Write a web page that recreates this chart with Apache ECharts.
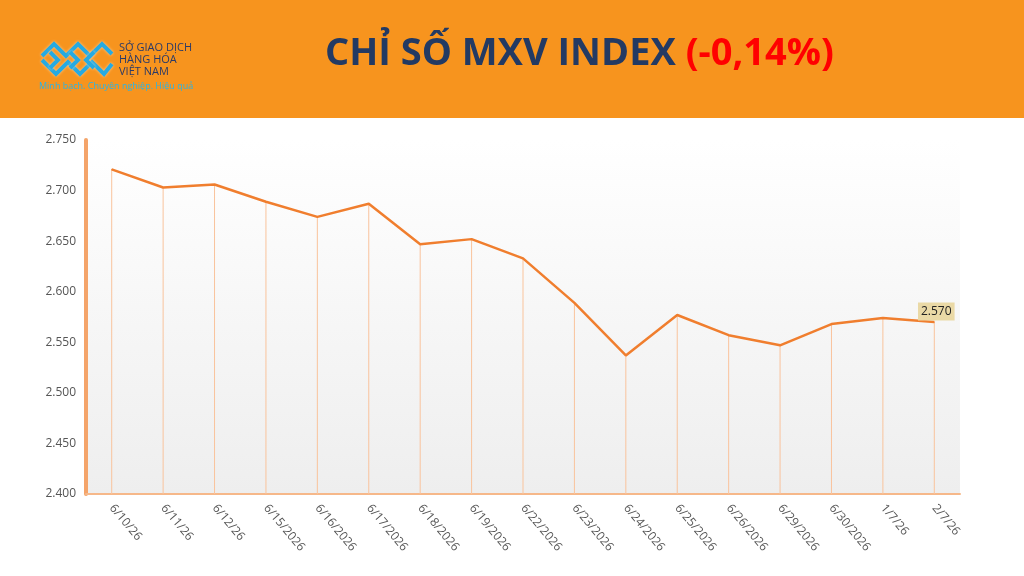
<!DOCTYPE html>
<html>
<head>
<meta charset="utf-8">
<script src="https://cdn.jsdelivr.net/npm/echarts@6/dist/echarts.min.js"></script>
<style>
  html, body { margin: 0; padding: 0; background: #fff; }
  #chart { width: 1024px; height: 576px; }
</style>
</head>
<body>
<div id="chart"></div>
<script>
// ngày giao dịch
const dates = ["6/10/26", "6/11/26", "6/12/26", "6/15/2026", "6/16/2026", "6/17/2026", "6/18/2026",
  "6/19/2026", "6/22/2026", "6/23/2026", "6/24/2026", "6/25/2026", "6/26/2026", "6/29/2026",
  "6/30/2026", "1/7/26", "2/7/26"]
// chỉ số MXV
const mxvIndex = [2721, 2703, 2706, 2689, 2674, 2687, 2647, 2652, 2633, 2589, 2537, 2577, 2557, 2547, 2568, 2574, 2570]
const yMin = 2400
const yMax = 2750
const yStep = 50

const fmt = v => (v / 1000).toFixed(3)
const last = mxvIndex.length - 1

const chart = echarts.init(document.getElementById("chart"))

// logo: zigzag icon
const logoLines = [
  [[42, 56], [54, 44], [66, 56], [78, 44], [90, 56], [102, 44], [112, 54]],
  [[42, 60], [56, 74], [68, 62], [80, 74], [92, 62], [104, 74], [112, 64]],
  [[50, 52], [58, 60], [50, 68]],
  [[70, 52], [78, 60], [70, 68]],
  [[94, 52], [86, 60], [94, 68]]
]

chart.setOption({
  animation: false,
  graphic: [
    { type: "rect", shape: { x: 0, y: 0, width: 1024, height: 118 }, style: { fill: "#F7941E" }, z: -10 },
    ...logoLines.map(pts => ({
      type: "polyline", shape: { points: pts },
      style: { stroke: "#27AAE1", lineWidth: 4, fill: null, shadowBlur: 3, shadowColor: "rgba(255,230,200,0.7)" }
    })),
    { type: "text", left: 119, top: 42, style: { text: "SỞ GIAO DỊCH", fill: "#2B3A67", font: "11px 'Open Sans'" } },
    { type: "text", left: 119, top: 54, style: { text: "HÀNG HÓA", fill: "#2B3A67", font: "11px 'Open Sans'" } },
    { type: "text", left: 119, top: 66, style: { text: "VIỆT NAM", fill: "#2B3A67", font: "11px 'Open Sans'" } },
    { type: "text", left: 39, top: 82, style: { text: "Minh bạch. Chuyên nghiệp. Hiệu quả", fill: "#2AB4E6", font: "9px 'Open Sans'" } },
    {
      type: "text", left: 325, top: 35,
      style: {
        text: "{a|CHỈ SỐ MXV INDEX }{b|(-0,14%)}",
        rich: {
          a: { fill: "#233A63", font: "bold 38px 'Open Sans'" },
          b: { fill: "#FF0000", font: "bold 38px 'Open Sans'" }
        }
      }
    }
  ],
  grid: {
    left: 86, right: 64, top: 140, bottom: 82,
    show: true, borderWidth: 0,
    backgroundColor: new echarts.graphic.LinearGradient(0, 0, 0, 1, [
      { offset: 0, color: "#ffffff" },
      { offset: 1, color: "#eeeeee" }
    ])
  },
  xAxis: {
    type: "category",
    data: dates,
    boundaryGap: true,
    axisLine: { lineStyle: { color: "#F6B88A", width: 2 } },
    axisTick: { show: false },
    axisLabel: { rotate: -50, color: "#555", fontSize: 12, fontFamily: "Open Sans", margin: 12, interval: 0 }
  },
  yAxis: {
    type: "value",
    min: yMin, max: yMax, interval: yStep,
    axisLine: { show: true, lineStyle: { color: "#F4A46A", width: 4 } },
    axisTick: { show: false },
    splitLine: { show: false },
    axisLabel: { formatter: fmt, color: "#555", fontSize: 12, fontFamily: "Open Sans", margin: 10 }
  },
  series: [
    {
      // đường thả xuống
      type: "bar",
      data: mxvIndex,
      barWidth: 1,
      itemStyle: { color: "#F9C39C" },
      silent: true
    },
    {
      type: "line",
      data: mxvIndex.map((v, i) => i === last ? {
        value: v,
        label: {
          show: true,
          formatter: p => fmt(p.value),
          position: "top",
          offset: [2, 4],
          backgroundColor: "#EAD9A6",
          padding: [3, 3],
          color: "#222",
          fontSize: 12,
          fontFamily: "Open Sans"
        }
      } : v),
      symbol: "circle",
      symbolSize: 1,
      showSymbol: true,
      itemStyle: { color: "#F07E2E" },
      lineStyle: { color: "#F07E2E", width: 2.5 }
    }
  ]
})
</script>
</body>
</html>
